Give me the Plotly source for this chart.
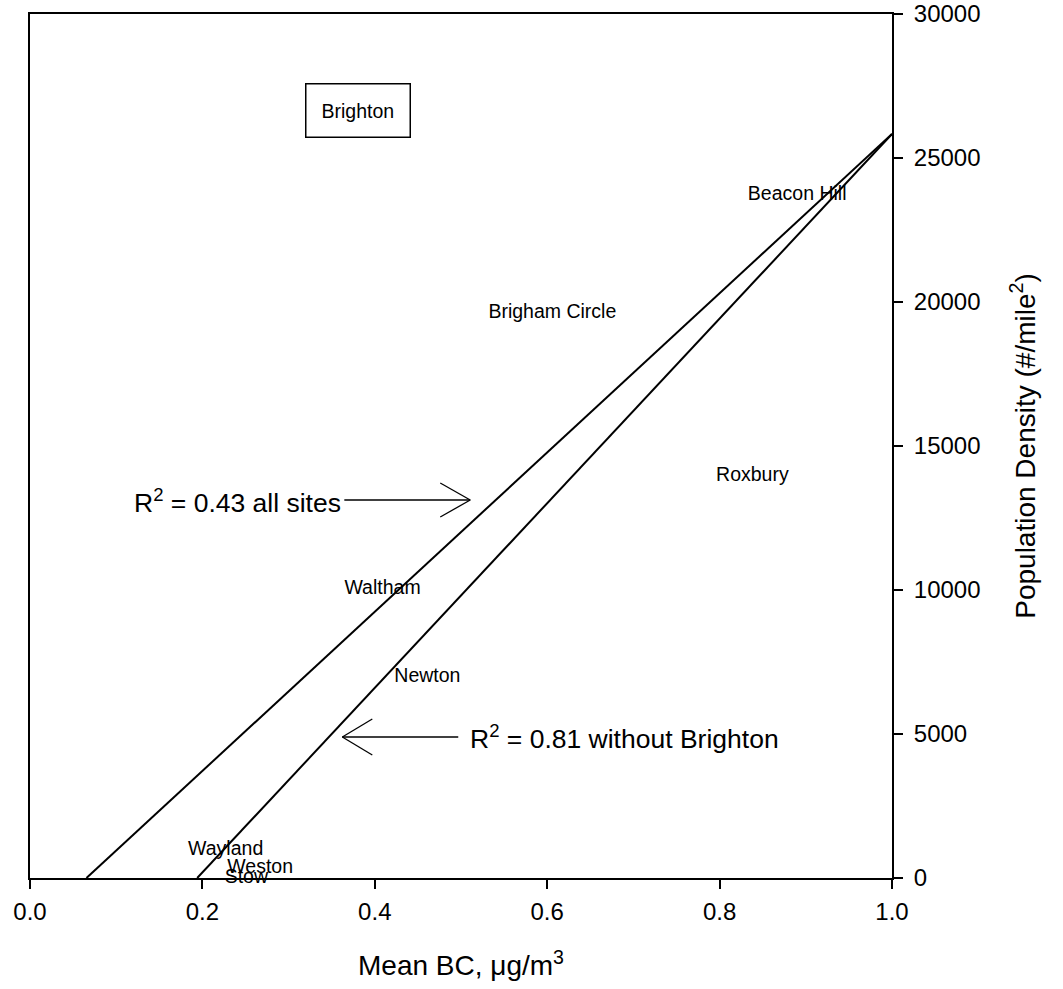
import numpy as np
import plotly.graph_objects as go

# ---- data ----
sites = ["Brighton", "Beacon Hill", "Brigham Circle", "Roxbury", "Waltham",
         "Newton", "Wayland", "Weston", "Stow"]
mean_bc = [0.380, 0.890, 0.606, 0.838, 0.409, 0.461, 0.227, 0.267, 0.251]
pop_density = [26650, 23715, 19620, 13960, 10035, 6980, 970, 347, 0]

# regression fits (slope, intercept)
fit_all_slope, fit_all_intercept = 27644, -1811          # R^2 = 0.43 all sites
fit_nob_slope, fit_nob_intercept = 32051, -6218          # R^2 = 0.81 without Brighton

x_ticks = [0.0, 0.2, 0.4, 0.6, 0.8, 1.0]
y_ticks = [0, 5000, 10000, 15000, 20000, 25000, 30000]

FONT = "Liberation Sans, Arial, sans-serif"

# plot-area geometry (pixels) used only to place the arrow/annotation decorations
L, R, T, B = 29.5, 892, 14, 878
W, H = 1063, 989


def px2x(px):
    return (px - L) / (R - L)


def py2y(py):
    return (B - py) / (B - T) * 30000


fig = go.Figure()

xs = np.linspace(0, 1, 201)
for slope, icpt in [(fit_all_slope, fit_all_intercept), (fit_nob_slope, fit_nob_intercept)]:
    ys = slope * xs + icpt
    mask = ys >= 0
    x0 = -icpt / slope
    xl = np.concatenate([[x0], xs[mask]])
    yl = np.concatenate([[0], ys[mask]])
    fig.add_trace(go.Scatter(x=xl, y=yl, mode="lines",
                             line=dict(color="black", width=2),
                             hoverinfo="skip", showlegend=False))

# site labels (all except Brighton, which is boxed)
fig.add_trace(go.Scatter(x=mean_bc[1:], y=pop_density[1:], mode="text",
                         text=sites[1:], textposition="middle center",
                         textfont=dict(family=FONT, size=19.5, color="black"),
                         cliponaxis=False, showlegend=False))

annotations = [
    dict(x=mean_bc[0], y=pop_density[0], xref="x", yref="y", text=sites[0],
         showarrow=False, font=dict(family=FONT, size=19.5, color="black"),
         bordercolor="black", borderwidth=1.5, borderpad=15, bgcolor="white"),
    dict(x=px2x(132), y=py2y(501), xref="x", yref="y", xanchor="left", yanchor="middle",
         text="R<sup>2</sup> = 0.43 all sites", showarrow=False,
         font=dict(family=FONT, size=26.5, color="black")),
    dict(x=px2x(468), y=py2y(737), xref="x", yref="y", xanchor="left", yanchor="middle",
         text="R<sup>2</sup> = 0.81 without Brighton", showarrow=False,
         font=dict(family=FONT, size=26.5, color="black")),
]

shapes = []
arrow_lines = [
    # arrow 1 (points right)
    ((344, 500), (470, 500)), ((440, 483), (470, 500)), ((440, 517), (470, 500)),
    # arrow 2 (points left)
    ((458, 737), (342, 737)), ((372, 719), (342, 737)), ((372, 755), (342, 737)),
]
for (ax0, ay0), (ax1, ay1) in arrow_lines:
    shapes.append(dict(type="line", xref="x", yref="y",
                       x0=px2x(ax0), y0=py2y(ay0), x1=px2x(ax1), y1=py2y(ay1),
                       line=dict(color="black", width=1.3)))

fig.update_layout(
    width=W, height=H,
    margin=dict(l=L, r=W - R, t=T, b=H - B, autoexpand=False),
    paper_bgcolor="white", plot_bgcolor="white",
    font=dict(family=FONT, color="black"),
    showlegend=False,
    annotations=annotations,
    shapes=shapes,
)

fig.update_xaxes(
    range=[0, 1], tickvals=x_ticks, ticktext=[f"{v:.1f}" for v in x_ticks],
    ticks="outside", ticklen=9, tickwidth=1.5, tickcolor="black",
    ticklabelstandoff=2,
    showline=True, linewidth=2, linecolor="black", mirror=True,
    showgrid=False, zeroline=False, automargin=False,
    tickfont=dict(family=FONT, size=24, color="black"),
    title=dict(text="Mean BC, μg/m<sup>3</sup>", standoff=32,
               font=dict(family=FONT, size=28, color="black")),
)
fig.update_yaxes(
    range=[0, 30000], tickvals=y_ticks, ticktext=[str(v) for v in y_ticks],
    side="right",
    ticks="outside", ticklen=9, tickwidth=1.5, tickcolor="black",
    ticklabelstandoff=6,
    showline=True, linewidth=2, linecolor="black", mirror=True,
    showgrid=False, zeroline=False, automargin=False,
    tickfont=dict(family=FONT, size=24, color="black"),
    title=dict(text="Population Density (#/mile<sup>2</sup>)", standoff=36,
               font=dict(family=FONT, size=28, color="black")),
)

fig.write_html("out.html")
